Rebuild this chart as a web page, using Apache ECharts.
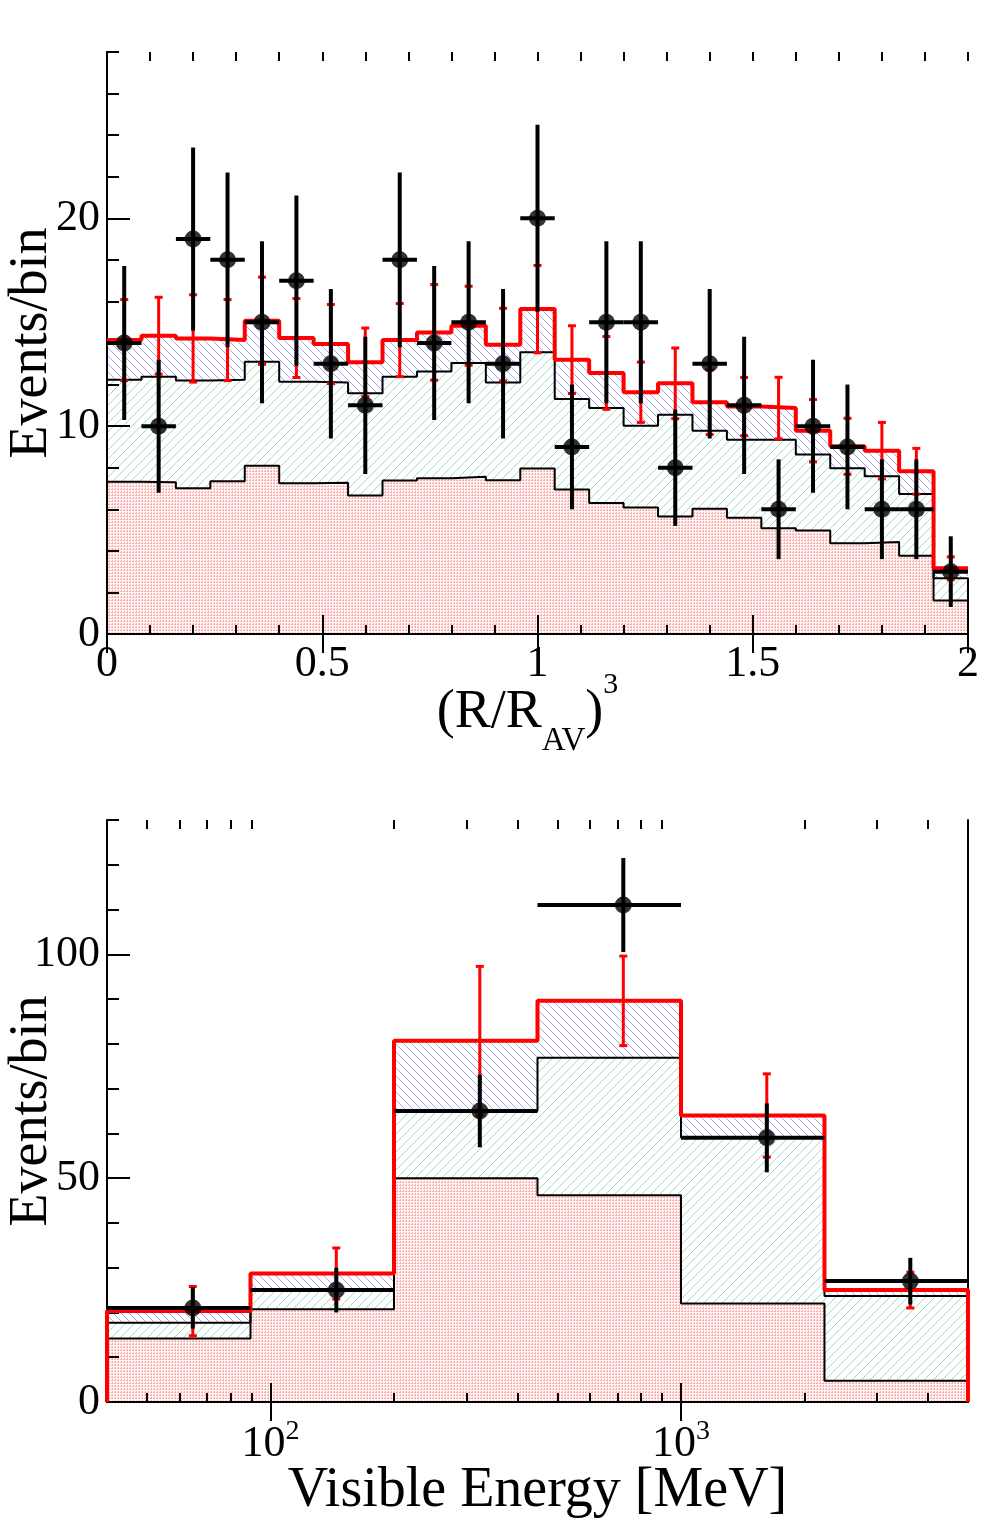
<!DOCTYPE html>
<html>
<head>
<meta charset="utf-8">
<script src="https://cdn.jsdelivr.net/npm/echarts@6/dist/echarts.min.js"></script>
<style>
  html, body { margin: 0; padding: 0; background: #fff; }
  #chart { width: 988px; height: 1536px; }
</style>
</head>
<body>
<div id="chart"></div>
<script>
// ---- top panel: (R/R_AV)^3, 25 bins ----
var radEdges = [0, 0.08, 0.16, 0.24, 0.32, 0.4, 0.48, 0.56, 0.64, 0.72, 0.8, 0.88, 0.96,
                1.04, 1.12, 1.2, 1.28, 1.36, 1.44, 1.52, 1.6, 1.68, 1.76, 1.84, 1.92, 2];
var radLow   = [7.33, 7.3, 7.01, 7.35, 8.1, 7.25, 7.28, 6.66, 7.38, 7.49, 7.57, 7.4, 7.96,
                6.95, 6.3, 6.08, 5.65, 6.02, 5.59, 5.09, 4.98, 4.37, 4.43, 3.77, 1.61];
var radMid   = [12.23, 12.38, 12.19, 12.23, 13.1, 12.14, 12.1, 11.58, 12.38, 12.63, 13.04, 12.1, 13.55,
                11.31, 10.87, 10.02, 10.55, 9.78, 9.34, 9.34, 8.63, 7.97, 7.59, 6.74, 2.68];
var radTotal = [14.14, 14.35, 14.22, 14.14, 15.07, 14.24, 13.95, 13.07, 14.14, 14.51, 14.83, 13.92, 15.63,
                13.2, 12.56, 11.63, 12.06, 11.15, 10.94, 10.87, 9.78, 9.03, 8.82, 7.83, 3.16];
var radTotalErr = [1.95, 1.85, 2.1, 1.95, 2.1, 1.9, 1.9, 1.65, 1.76, 2.3, 1.9, 1.75, 2.1,
                   1.63, 1.75, 1.45, 1.7, 1.55, 1.4, 1.48, 1.5, 1.35, 1.36, 1.1, 0.55];
var radData  = [14, 10, 19, 18, 15, 17, 13, 11, 18, 14, 15, 13, 20, 9, 15, 15, 8, 13, 11, 6, 10, 9, 6, 6, 3];
var radDataErr = [3.7, 3.2, 4.4, 4.2, 3.9, 4.1, 3.6, 3.3, 4.2, 3.7, 3.9, 3.6, 4.5,
                  3.0, 3.9, 3.9, 2.8, 3.6, 3.3, 2.4, 3.2, 3.0, 2.4, 2.4, 1.7];

// ---- bottom panel: visible energy, 6 log bins ----
var enEdges = [40, 89.44, 200, 447.2, 1000, 2236, 5000];
var enLow   = [14.2, 20.7, 50.0, 46.2, 22.0, 4.76];
var enMid   = [17.7, 25.0, 65.0, 76.9, 59.1, 23.7];
var enTotal = [20.3, 28.7, 80.7, 89.6, 64.0, 25.0];
var enTotalErr = [5.5, 5.7, 16.6, 10.0, 9.3, 4.0];
var enData  = [21, 25, 65, 111, 59, 27];
var enDataErr = [4.6, 5.0, 8.1, 10.5, 7.7, 5.2];

var enMajorTicks = [100, 1000];
var enMinorTicks = [50, 60, 70, 80, 90, 200, 300, 400, 500, 600, 700, 800, 900, 2000, 3000, 4000];

var FONT = 'Liberation Serif';

function hatch(color, dir, step) {
  var c = document.createElement('canvas');
  c.width = step; c.height = step;
  var ctx = c.getContext('2d');
  ctx.fillStyle = '#fff';
  ctx.fillRect(0, 0, step, step);
  ctx.strokeStyle = color;
  ctx.lineWidth = 1;
  ctx.beginPath();
  if (dir > 0) {
    ctx.moveTo(-1, step + 1); ctx.lineTo(step + 1, -1);
    ctx.moveTo(-1, 1); ctx.lineTo(1, -1);
    ctx.moveTo(step - 1, step + 1); ctx.lineTo(step + 1, step - 1);
  } else {
    ctx.moveTo(-1, -1); ctx.lineTo(step + 1, step + 1);
    ctx.moveTo(step - 1, -1); ctx.lineTo(step + 1, 1);
    ctx.moveTo(-1, step - 1); ctx.lineTo(1, step + 1);
  }
  ctx.stroke();
  return c;
}
function dots() {
  var c = document.createElement('canvas');
  c.width = 3; c.height = 3;
  var ctx = c.getContext('2d');
  ctx.fillStyle = '#fff6f6';
  ctx.fillRect(0, 0, 3, 3);
  ctx.fillStyle = '#ffaaaa';
  ctx.fillRect(0, 0, 2, 1);
  ctx.fillRect(1, 2, 1, 1);
  return c;
}
var blueFill = { image: hatch('#a8a8f0', -1, 8), repeat: 'repeat' };
var greenFill = { image: hatch('#9fdcc6', 1, 9), repeat: 'repeat' };
var pinkFill = { image: dots(), repeat: 'repeat' };

// histogram outline, optionally dropping to 0 at both ends
function stepData(edges, vals, drop) {
  var d = drop ? [[edges[0], 0]] : [];
  for (var i = 0; i < vals.length; i++) d.push([edges[i], vals[i]]);
  d.push([edges[edges.length - 1], vals[vals.length - 1]]);
  if (drop) d.push([edges[edges.length - 1], 0]);
  return d;
}
function barItems(edges, vals, errs) {
  var out = [];
  for (var i = 0; i < vals.length; i++) {
    out.push([(edges[i] + edges[i + 1]) / 2, vals[i], errs[i], edges[i], edges[i + 1]]);
  }
  return out;
}

function histSeries(xi, yi, edges, vals, fill, lineColor, lineWidth, z, drop) {
  return {
    type: 'line', xAxisIndex: xi, yAxisIndex: yi, step: 'end',
    data: stepData(edges, vals, drop !== false), symbol: 'none', silent: true, z: z,
    lineStyle: { color: lineColor, width: lineWidth },
    areaStyle: fill ? { color: fill, opacity: 1 } : undefined
  };
}

function errSeries(xi, yi, items, color, width, withCaps, withHBar, z) {
  return {
    type: 'custom', xAxisIndex: xi, yAxisIndex: yi, z: z, silent: true,
    data: items,
    renderItem: function (params, api) {
      var x = api.value(0), y = api.value(1), e = api.value(2);
      var t = api.coord([x, y + e]), b = api.coord([x, y - e]);
      var st = { stroke: color, lineWidth: width };
      var ch = [{ type: 'line', shape: { x1: t[0], y1: t[1], x2: b[0], y2: b[1] }, style: st }];
      if (withCaps) {
        ch.push({ type: 'line', shape: { x1: t[0] - 4, y1: t[1], x2: t[0] + 4, y2: t[1] }, style: st });
        ch.push({ type: 'line', shape: { x1: b[0] - 4, y1: b[1], x2: b[0] + 4, y2: b[1] }, style: st });
      }
      if (withHBar) {
        var l = api.coord([api.value(3), y]), r = api.coord([api.value(4), y]);
        ch.push({ type: 'line', shape: { x1: l[0], y1: l[1], x2: r[0], y2: r[1] }, style: st });
      }
      return { type: 'group', children: ch };
    }
  };
}

function pointSeries(xi, yi, items, z) {
  return {
    type: 'scatter', xAxisIndex: xi, yAxisIndex: yi, z: z, silent: true,
    symbol: 'circle', symbolSize: 17, itemStyle: { color: '#000' },
    data: items.map(function (d) { return [d[0], d[1]]; })
  };
}

var tickStyle = { color: '#000', width: 2 };
var lineAxis = { show: true, lineStyle: { color: '#000', width: 2 } };
var labelBase = { color: '#000', fontFamily: FONT, fontSize: 44 };

function valX(grid, pos, interval, len, opts) {
  return Object.assign({
    type: 'value', gridIndex: grid, position: pos, min: 0, max: 2, interval: interval, z: 3,
    axisLine: { show: false }, splitLine: { show: false },
    axisTick: { show: true, inside: true, length: len, lineStyle: tickStyle },
    axisLabel: { show: false }
  }, opts || {});
}
function valY(grid, pos, max, interval, len, opts) {
  return Object.assign({
    type: 'value', gridIndex: grid, position: pos, min: 0, max: max, interval: interval, z: 3,
    axisLine: { show: false }, splitLine: { show: false },
    axisTick: { show: len > 0, inside: true, length: len, lineStyle: tickStyle },
    axisLabel: { show: false }
  }, opts || {});
}
function logX(pos, ticks, len, opts) {
  return Object.assign({
    type: 'log', logBase: 10, gridIndex: 1, position: pos, min: enEdges[0], max: enEdges[enEdges.length - 1], z: 3,
    axisLine: { show: false }, splitLine: { show: false },
    axisTick: { show: true, inside: true, length: len, lineStyle: tickStyle, customValues: ticks },
    axisLabel: { show: false }
  }, opts || {});
}

var yName = {
  name: 'Events/bin', nameLocation: 'middle', nameGap: 48, nameRotate: 90, nameMoveOverlap: false,
  nameTextStyle: { color: '#000', fontFamily: FONT, fontSize: 54 }
};

var option = {
  animation: false,
  backgroundColor: '#fff',
  grid: [
    { left: 107, top: 52, width: 861, height: 582, containLabel: false, outerBoundsMode: 'none' },
    { left: 107, top: 820, width: 861, height: 582, containLabel: false, outerBoundsMode: 'none' }
  ],
  xAxis: [
    valX(0, 'bottom', 0.5, 19, {
      axisLine: lineAxis,
      axisLabel: Object.assign({ show: true, margin: 8 }, labelBase),
      name: '{m|(R/R}{sub|AV}{m|)}{sup|3}', nameLocation: 'middle', nameGap: 70, nameMoveOverlap: false,
      nameTextStyle: {
        color: '#000', fontFamily: FONT, padding: [0, 20, 0, 0],
        rich: {
          m: { fontFamily: FONT, fontSize: 54, lineHeight: 54, verticalAlign: 'bottom', padding: [0, 0, 18, 0], color: '#000' },
          sub: { fontFamily: FONT, fontSize: 33, lineHeight: 33, verticalAlign: 'bottom', color: '#000' },
          sup: { fontFamily: FONT, fontSize: 30, lineHeight: 30, verticalAlign: 'bottom', padding: [0, 0, 58, 0], color: '#000' }
        }
      }
    }),
    valX(0, 'bottom', 0.1, 9),
    valX(0, 'top', 0.5, 19, { axisLine: lineAxis }),
    valX(0, 'top', 0.1, 9),
    logX('bottom', enMajorTicks, 19, {
      axisLine: lineAxis,
      axisLabel: Object.assign({
        show: true, margin: 20, customValues: enMajorTicks,
        formatter: function (v) { return '{b|10}{s|' + Math.round(Math.log10(v)) + '}'; },
        rich: {
          b: { fontFamily: FONT, fontSize: 44, lineHeight: 44, verticalAlign: 'bottom', color: '#000' },
          s: { fontFamily: FONT, fontSize: 28, lineHeight: 28, verticalAlign: 'bottom', padding: [0, 0, 20, 0], color: '#000' }
        }
      }, labelBase),
      name: 'Visible Energy [MeV]', nameLocation: 'middle', nameGap: 61, nameMoveOverlap: false,
      nameTextStyle: { color: '#000', fontFamily: FONT, fontSize: 56 }
    }),
    logX('bottom', enMinorTicks, 9),
    logX('top', enMajorTicks, 19, { axisLine: lineAxis }),
    logX('top', enMinorTicks, 9)
  ],
  yAxis: [
    valY(0, 'left', 28, 10, 23, Object.assign({
      axisLine: lineAxis,
      axisLabel: Object.assign({ show: true, margin: 7, showMaxLabel: false }, labelBase)
    }, yName)),
    valY(0, 'left', 28, 2, 12),
    valY(0, 'right', 28, 10, 0, { axisLine: lineAxis }),
    valY(1, 'left', 130, 50, 23, Object.assign({
      axisLine: lineAxis,
      axisLabel: Object.assign({ show: true, margin: 7, showMaxLabel: false }, labelBase)
    }, yName)),
    valY(1, 'left', 130, 10, 12),
    valY(1, 'right', 130, 50, 0, { axisLine: lineAxis })
  ],
  series: [
    // top panel
    histSeries(0, 0, radEdges, radTotal, blueFill, 'rgba(0,0,0,0)', 0, 2),
    histSeries(0, 0, radEdges, radMid, greenFill, '#000', 2, 2),
    histSeries(0, 0, radEdges, radLow, pinkFill, '#000', 2, 2),
    histSeries(0, 0, radEdges, radTotal, null, '#ff0000', 4, 4, false),
    errSeries(0, 0, barItems(radEdges, radTotal, radTotalErr), '#ff0000', 3, true, false, 4),
    errSeries(0, 0, barItems(radEdges, radData, radDataErr), '#000', 4, false, true, 5),
    pointSeries(0, 0, barItems(radEdges, radData, radDataErr), 5),
    // bottom panel
    histSeries(4, 3, enEdges, enTotal, blueFill, 'rgba(0,0,0,0)', 0, 2),
    histSeries(4, 3, enEdges, enMid, greenFill, '#000', 2, 2),
    histSeries(4, 3, enEdges, enLow, pinkFill, '#000', 2, 2),
    histSeries(4, 3, enEdges, enTotal, null, '#ff0000', 4, 4),
    errSeries(4, 3, barItems(enEdges, enTotal, enTotalErr), '#ff0000', 3, true, false, 4),
    errSeries(4, 3, barItems(enEdges, enData, enDataErr), '#000', 4, false, true, 5),
    pointSeries(4, 3, barItems(enEdges, enData, enDataErr), 5)
  ]
};

var myChart = echarts.init(document.getElementById('chart'), null, { renderer: 'canvas' });
myChart.setOption(option);
</script>
</body>
</html>
